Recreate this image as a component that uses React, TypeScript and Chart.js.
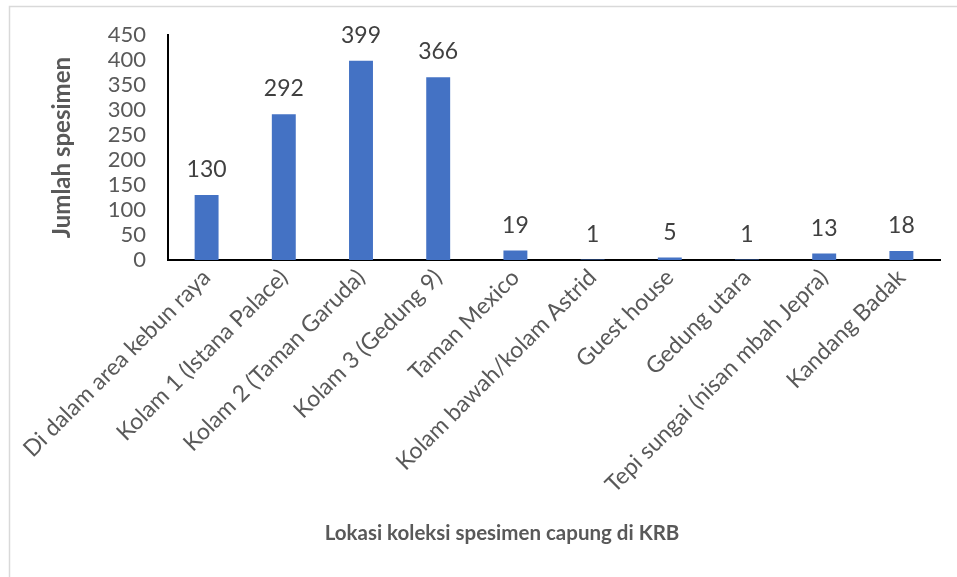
import React, { useEffect, useRef } from "react";
import { Chart, registerables } from "chart.js";

Chart.register(...registerables);

const categories = [
  "Di dalam area kebun raya",
  "Kolam 1 (Istana Palace)",
  "Kolam 2 (Taman Garuda)",
  "Kolam 3 (Gedung 9)",
  "Taman Mexico",
  "Kolam bawah/kolam Astrid",
  "Guest house",
  "Gedung utara",
  "Tepi sungai (nisan mbah Jepra)",
  "Kandang Badak",
];
const values = [130, 292, 399, 366, 19, 1, 5, 1, 13, 18];
const yMin = 0;
const yMax = 450;
const yStep = 50;
const yTitle = "Jumlah spesimen";
const xTitle = "Lokasi koleksi spesimen capung di KRB";

const FONT = "Lato, 'Open Sans', sans-serif";
const TEXT = "#595959";
const LABEL = "#404040";
const BAR = "#4472C4";

const decorPlugin = {
  id: "decor",
  beforeDraw(chart: any) {
    const ctx = chart.ctx;
    ctx.save();
    ctx.fillStyle = "#ffffff";
    ctx.fillRect(0, 0, chart.width, chart.height);
    ctx.strokeStyle = "#d9d9d9";
    ctx.lineWidth = 1.5;
    ctx.beginPath();
    ctx.moveTo(9.5, chart.height);
    ctx.lineTo(9.5, 6.5);
    ctx.lineTo(chart.width, 6.5);
    ctx.stroke();
    ctx.restore();
  },
  afterDraw(chart: any) {
    const ctx = chart.ctx;
    const area = chart.chartArea;
    ctx.save();
    // data labels
    ctx.fillStyle = LABEL;
    ctx.font = `23px ${FONT}`;
    ctx.textAlign = "center";
    ctx.textBaseline = "alphabetic";
    const meta = chart.getDatasetMeta(0);
    meta.data.forEach((bar: any, i: number) => {
      ctx.fillText(String(values[i]), bar.x, bar.y - 18);
    });
    // axis titles
    ctx.fillStyle = TEXT;
    ctx.textBaseline = "middle";
    ctx.save();
    ctx.font = `bold 24px ${FONT}`;
    ctx.translate(62, (area.top + area.bottom) / 2);
    ctx.rotate(-Math.PI / 2);
    ctx.fillText(yTitle, 0, 0);
    ctx.restore();
    ctx.font = `bold 20.5px ${FONT}`;
    ctx.fillText(xTitle, 502, 533);
    ctx.restore();
  },
};

export default function App() {
  const ref = useRef<HTMLCanvasElement | null>(null);
  useEffect(() => {
    if (!ref.current) return;
    const chart = new Chart(ref.current, {
      type: "bar",
      data: {
        labels: categories,
        datasets: [
          {
            data: values,
            backgroundColor: BAR,
            barPercentage: 0.62,
            categoryPercentage: 0.5,
          },
        ],
      },
      options: {
        animation: false,
        responsive: false,
        maintainAspectRatio: false,
        devicePixelRatio: 1,
        layout: { padding: { left: 0, right: 17, top: 35, bottom: 0 } },
        plugins: {
          legend: { display: false },
          tooltip: { enabled: false },
        },
        scales: {
          x: {
            grid: { display: false, drawTicks: false },
            border: { display: true, color: "#000000", width: 2 },
            ticks: {
              color: TEXT,
              font: { family: FONT, size: 23 },
              maxRotation: 45,
              minRotation: 45,
              autoSkip: false,
              padding: 4,
            },
            afterFit: (s: any) => {
              s.height = 317;
            },
          },
          y: {
            min: yMin,
            max: yMax,
            grid: { display: false, drawTicks: false },
            border: { display: true, color: "#000000", width: 2 },
            ticks: {
              stepSize: yStep,
              autoSkip: false,
              color: TEXT,
              font: { family: FONT, size: 22 },
              padding: 22,
            },
            afterFit: (s: any) => {
              s.width = 168;
            },
          },
        },
      },
      plugins: [decorPlugin],
    });
    return () => chart.destroy();
  }, []);
  return (
    <div style={{ position: "absolute", left: 0, top: 0, width: 957, height: 577, background: "#fff" }}>
      <canvas ref={ref} width={957} height={577} style={{ display: "block", width: 957, height: 577 }} />
    </div>
  );
}
